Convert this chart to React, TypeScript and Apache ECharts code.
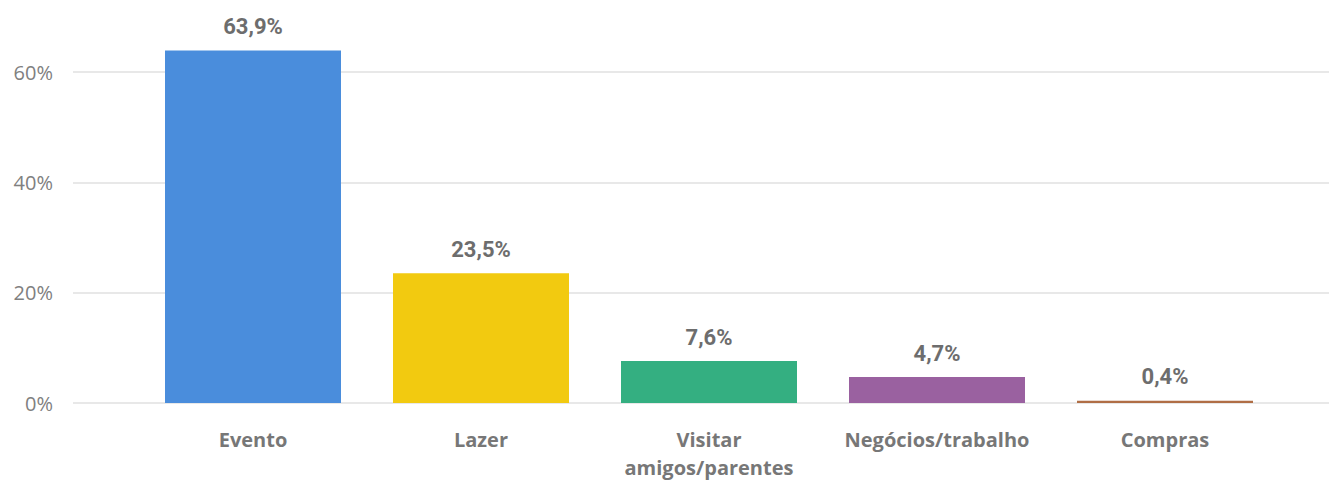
import React, { useEffect, useRef } from "react";
import * as echarts from "echarts";

const categories = ["Evento", "Lazer", "Visitar\namigos/parentes", "Negócios/trabalho", "Compras"];
const values = [63.9, 23.5, 7.6, 4.7, 0.4];
const barColors = ["#4A8DDC", "#F2CA10", "#34AF81", "#9A61A0", "#B06E45"];
const yTicks = { min: 0, max: 60, interval: 20 };

export default function App() {
  const ref = useRef<HTMLDivElement>(null);
  useEffect(() => {
    if (!ref.current) return;
    const chart = echarts.init(ref.current, null, { renderer: "svg" });
    chart.setOption({
      animation: false,
      backgroundColor: "#ffffff",
      grid: [
        { left: 73, right: 0, top: 72, bottom: 78, outerBoundsMode: "none", containLabel: false },
        { left: 139, right: 50, top: 72, bottom: 78, outerBoundsMode: "none", containLabel: false },
      ],
      xAxis: [
        { gridIndex: 0, type: "value", min: 0, max: 1, show: false },
        {
          gridIndex: 1,
          type: "category",
          data: categories,
          axisLine: { show: false },
          axisTick: { show: false },
          axisLabel: {
            interval: 0,
            margin: 22,
            color: "#777777",
            fontFamily: "Open Sans",
            fontWeight: "bold",
            fontSize: 20,
            lineHeight: 28,
          },
        },
      ],
      yAxis: [
        {
          gridIndex: 0,
          type: "value",
          min: yTicks.min,
          max: yTicks.max,
          interval: yTicks.interval,
          axisLine: { show: false },
          axisTick: { show: false },
          splitLine: { lineStyle: { color: "#e8e8e8", width: 2 } },
          axisLabel: {
            formatter: "{value}%",
            margin: 20,
            color: "#808080",
            fontFamily: "Open Sans",
            fontSize: 20,
          },
        },
        {
          gridIndex: 1,
          type: "value",
          min: yTicks.min,
          max: yTicks.max,
          show: false,
          splitLine: { show: false },
        },
      ],
      series: [
        {
          type: "bar",
          xAxisIndex: 1,
          yAxisIndex: 1,
          clip: false,
          barWidth: 176,
          data: values.map((v, i) => ({ value: v, itemStyle: { color: barColors[i] } })),
          label: {
            show: true,
            position: "top",
            distance: 13,
            color: "#6d6d6d",
            fontFamily: "Roboto",
            fontWeight: "bold",
            fontSize: 22,
            formatter: (p: any) => p.value.toFixed(1).replace(".", ",") + "%",
          },
        },
      ],
    });
    return () => chart.dispose();
  }, []);
  return <div ref={ref} style={{ width: 1329, height: 481, position: "absolute", left: 0, top: 0 }} />;
}
